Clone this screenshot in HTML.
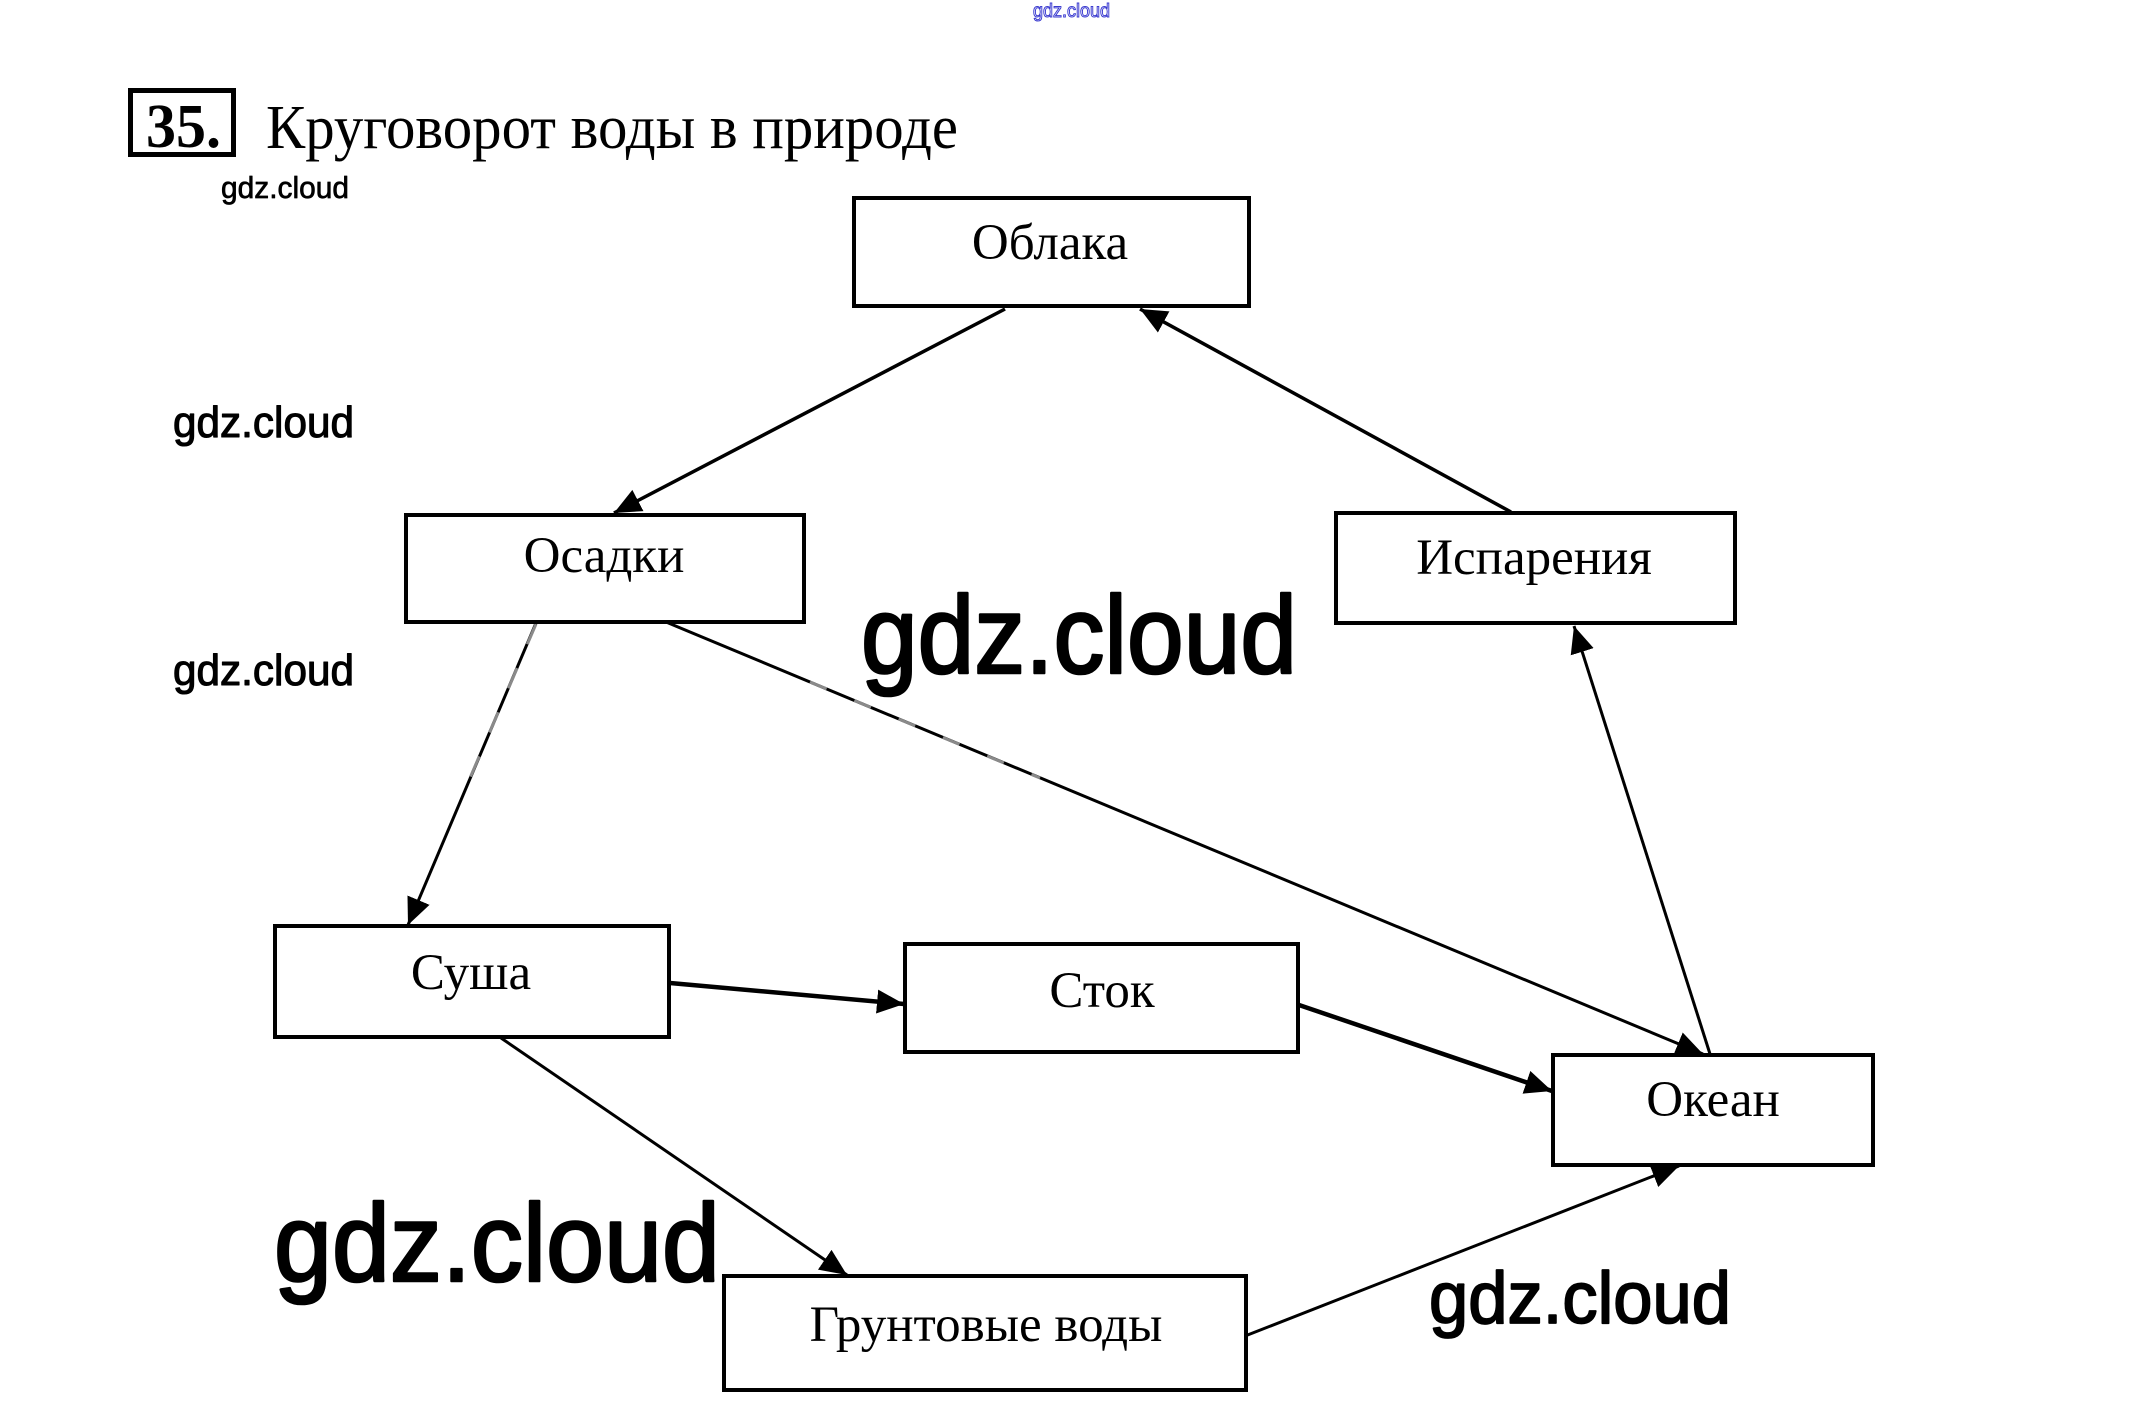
<!DOCTYPE html>
<html>
<head>
<meta charset="utf-8">
<style>
html,body{margin:0;padding:0;background:#fff;}
svg{display:block;}
</style>
</head>
<body>
<svg width="2143" height="1428" viewBox="0 0 2143 1428" xmlns="http://www.w3.org/2000/svg">
<defs>
<marker id="ah" markerUnits="userSpaceOnUse" markerWidth="30" markerHeight="26" refX="27" refY="12" orient="auto">
<path d="M0,0 L27,12 L0,24 z" fill="#000"/>
</marker>
</defs>
<rect x="0" y="0" width="2143" height="1428" fill="#fff"/>

<!-- top blue outlined watermark -->
<text x="1033" y="17" font-family="Liberation Sans, sans-serif" font-size="19" fill="#fff" stroke="#3b3bd0" stroke-width="1" textLength="77" lengthAdjust="spacingAndGlyphs">gdz.cloud</text>

<!-- title -->
<rect x="130.5" y="90.5" width="103" height="64" fill="none" stroke="#000" stroke-width="5"/>
<text x="146" y="147" font-family="Liberation Serif, serif" font-weight="bold" font-size="62" textLength="75" lengthAdjust="spacingAndGlyphs">35.</text>
<text x="266" y="148" font-family="Liberation Serif, serif" font-size="62" textLength="692" lengthAdjust="spacingAndGlyphs">Круговорот воды в природе</text>

<!-- watermarks -->
<g font-family="Liberation Sans, DejaVu Sans, sans-serif" fill="#000" stroke="#000" stroke-linejoin="round">
<text x="221" y="198" font-size="31" stroke-width="0.7" textLength="128" lengthAdjust="spacingAndGlyphs">gdz.cloud</text>
<text x="173" y="437" font-size="44" stroke-width="1.1" textLength="181" lengthAdjust="spacingAndGlyphs">gdz.cloud</text>
<text x="173" y="685" font-size="44" stroke-width="1.1" textLength="181" lengthAdjust="spacingAndGlyphs">gdz.cloud</text>
<text x="861" y="673" font-size="110" stroke-width="2.6" textLength="436" lengthAdjust="spacingAndGlyphs">gdz.cloud</text>
<text x="274" y="1281" font-size="110" stroke-width="2.6" textLength="446" lengthAdjust="spacingAndGlyphs">gdz.cloud</text>
<text x="1429" y="1323" font-size="73" stroke-width="1.8" textLength="302" lengthAdjust="spacingAndGlyphs">gdz.cloud</text>
</g>

<!-- connectors -->
<g stroke="#000" fill="none" stroke-linecap="butt">
<line x1="1005" y1="309" x2="614" y2="513" stroke-width="3.5" marker-end="url(#ah)"/>
<line x1="1511" y1="512" x2="1140" y2="309" stroke-width="3.5" marker-end="url(#ah)"/>
<line x1="536" y1="623" x2="408" y2="925" stroke-width="3" marker-end="url(#ah)"/>
<line x1="666" y1="622" x2="1703" y2="1054" stroke-width="3" marker-end="url(#ah)"/>
<line x1="1710" y1="1054" x2="1574" y2="626" stroke-width="3" marker-end="url(#ah)"/>
<line x1="670" y1="983" x2="904" y2="1004" stroke-width="4.5" marker-end="url(#ah)"/>
<line x1="1299" y1="1005" x2="1552" y2="1091" stroke-width="4.5" marker-end="url(#ah)"/>
<line x1="501" y1="1038" x2="847" y2="1275" stroke-width="3" marker-end="url(#ah)"/>
<line x1="1245" y1="1336" x2="1679" y2="1166" stroke-width="3" marker-end="url(#ah)"/>
</g>
<!-- gray artifact dashes -->
<g stroke="#8a8a8a" stroke-width="3" fill="none">
<line x1="536" y1="624" x2="467" y2="785" stroke-dasharray="22 26"/>
<line x1="810" y1="682" x2="1040" y2="778" stroke-dasharray="18 30"/>
</g>

<!-- boxes -->
<g fill="#fff" stroke="#000" stroke-width="4">
<rect x="854" y="198" width="395" height="108"/>
<rect x="406" y="515" width="398" height="107"/>
<rect x="1336" y="513" width="399" height="110"/>
<rect x="275" y="926" width="394" height="111"/>
<rect x="905" y="944" width="393" height="108"/>
<rect x="1553" y="1055" width="320" height="110"/>
<rect x="724" y="1276" width="522" height="114"/>
</g>

<!-- labels -->
<g font-family="Liberation Serif, serif" font-size="51" fill="#000" text-anchor="middle">
<text x="1050" y="259">Облака</text>
<text x="604" y="572">Осадки</text>
<text x="1534" y="574">Испарения</text>
<text x="471" y="989">Суша</text>
<text x="1102" y="1007">Сток</text>
<text x="1713" y="1116">Океан</text>
<text x="986" y="1341">Грунтовые воды</text>
</g>
</svg>
</body>
</html>
